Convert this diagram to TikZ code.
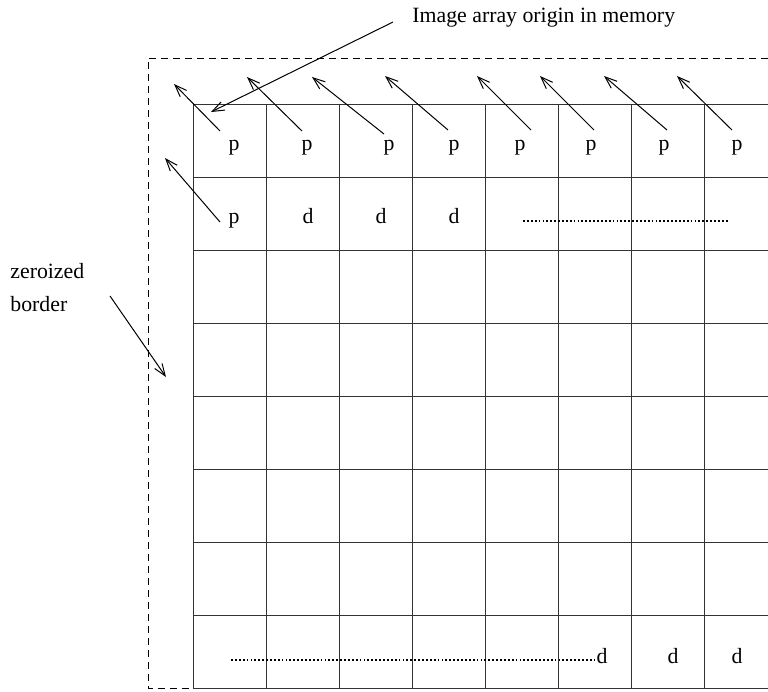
\documentclass[tikz,border=0pt]{standalone}
\usepackage{fontspec}
\setmainfont{Liberation Serif}
\usetikzlibrary{arrows.meta}

\begin{document}
\begin{tikzpicture}[
  x=0.5pt, y=-0.5pt,
  font=\fontsize{10.9}{16.5}\selectfont,
  >={Straight Barb[length=6pt,width=4.5pt]},
  cellline/.style={line width=0.5pt, draw=black!80},
  zborder/.style={line width=0.5pt, dash pattern=on 3.5pt off 2.5pt},
  arr/.style={->, line width=0.5pt},
  dotrow/.style={line width=0.9pt, dash pattern=on 0.9pt off 1.05pt},
  lbl/.style={inner sep=0pt, anchor=base}
]
  \useasboundingbox (0,0) rectangle (768,692);

  % dashed border round the array
  \draw[zborder] (768,58) -- (148,58) -- (148,688) -- (193,688);

  % the image array
  \foreach \gx in {193,266,...,704}
    \draw[cellline] (\gx,104) -- (\gx,688);
  \foreach \gy in {104,177,...,688}
    \draw[cellline] (193,\gy) -- (768,\gy);

  % first row
  \foreach \n/\px in {1/234,2/307,3/389,4/454,5/520,6/591,7/664,8/737}
    \node[lbl] (p\n) at (\px,150) {p};

  % second row
  \node[lbl] (q1) at (234,223) {p};
  \node[lbl] (d1) at (308,223) {d};
  \node[lbl] (d2) at (381,223) {d};
  \node[lbl] (d3) at (454,223) {d};
  \coordinate (dotA) at (523,221);
  \coordinate (dotB) at (728,221);
  \draw[dotrow] (dotA) -- (dotB);

  % last row
  \node[lbl] (e1) at (602,663) {d};
  \node[lbl] (e2) at (673,663) {d};
  \node[lbl] (e3) at (737,663) {d};
  \coordinate (dotC) at (231,660);
  \coordinate (dotD) at (595,660);
  \draw[dotrow] (dotC) -- (dotD);

  % pointers into the border
  \foreach \n/\tx/\ty/\hx/\hy in {1/220/131/174/84, 2/302/131/247/77,
      3/384/134/312/77, 4/448/130/385/76, 5/531/130/477/76,
      6/594/130/540/76, 7/667/130/604/76, 8/732/130/677/76}{
    \coordinate (pt\n) at (\tx,\ty);
    \coordinate (ph\n) at (\hx,\hy);
    \draw[arr] (pt\n) -- (ph\n);
  }
  \coordinate (qt) at (220,222);
  \coordinate (qh) at (165,158);
  \draw[arr] (qt) -- (qh);

  % labels
  \node[lbl, anchor=base west] (origin) at (412,22) {Image array origin in memory};
  \coordinate (ot) at (393,22);
  \coordinate (oh) at (211,112);
  \draw[arr] (ot) -- (oh);

  \node[lbl, anchor=base west, align=left] (zero) at (10,311) {zeroized\\border};
  \coordinate (zt) at (110,296);
  \coordinate (zh) at (166,377);
  \draw[arr] (zt) -- (zh);
\end{tikzpicture}
\end{document}
